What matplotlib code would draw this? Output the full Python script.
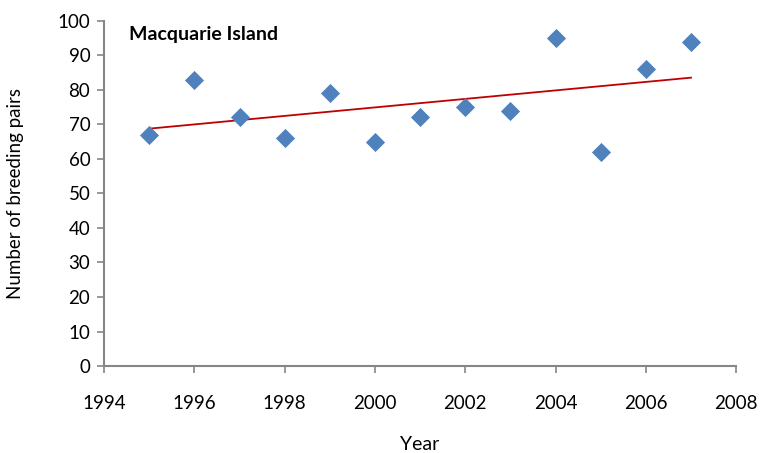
import numpy as np
import matplotlib
matplotlib.use("Agg")
import matplotlib.pyplot as plt

years = [1995, 1996, 1997, 1998, 1999, 2000, 2001, 2002, 2003, 2004, 2005, 2006, 2007]
pairs = [67, 83, 72, 66, 79, 65, 72, 75, 74, 95, 62, 86, 94]

x_ticks = [1994, 1996, 1998, 2000, 2002, 2004, 2006, 2008]
y_ticks = [0, 10, 20, 30, 40, 50, 60, 70, 80, 90, 100]

plt.rcParams['font.family'] = ['Lato', 'DejaVu Sans']

fig = plt.figure(figsize=(7.66, 4.53), dpi=100)
ax = fig.add_axes([0.136, 0.192, 0.825, 0.762])

ax.scatter(years, pairs, marker='D', s=95, color='#4F81BD', zorder=3, linewidths=0)

# linear trendline
slope, icpt = np.polyfit(years, pairs, 1)
xs = np.array([years[0], years[-1]])
ax.plot(xs, slope * xs + icpt, color='#C00000', lw=1.3, zorder=2)

ax.set_xlim(1994, 2008)
ax.set_ylim(0, 100)
ax.set_xticks(x_ticks)
ax.set_yticks(y_ticks)
ax.tick_params(labelsize=13.5, direction='out', length=5, color='#868686', width=1.2)
ax.tick_params(axis='x', pad=16)
ax.tick_params(axis='y', pad=5)
for s in ['top', 'right']:
    ax.spines[s].set_visible(False)
for s in ['left', 'bottom']:
    ax.spines[s].set_color('#868686')
    ax.spines[s].set_linewidth(1.5)

ax.set_ylabel("Number of breeding pairs", fontsize=13.5, labelpad=24)
fig.text(0.548, 0.0, "Year", fontsize=14, ha='center', va='bottom')
ax.text(0.04, 0.985, "Macquarie Island", transform=ax.transAxes,
        fontsize=14, fontweight='bold', ha='left', va='top')

fig.savefig("out.png", dpi=100)
